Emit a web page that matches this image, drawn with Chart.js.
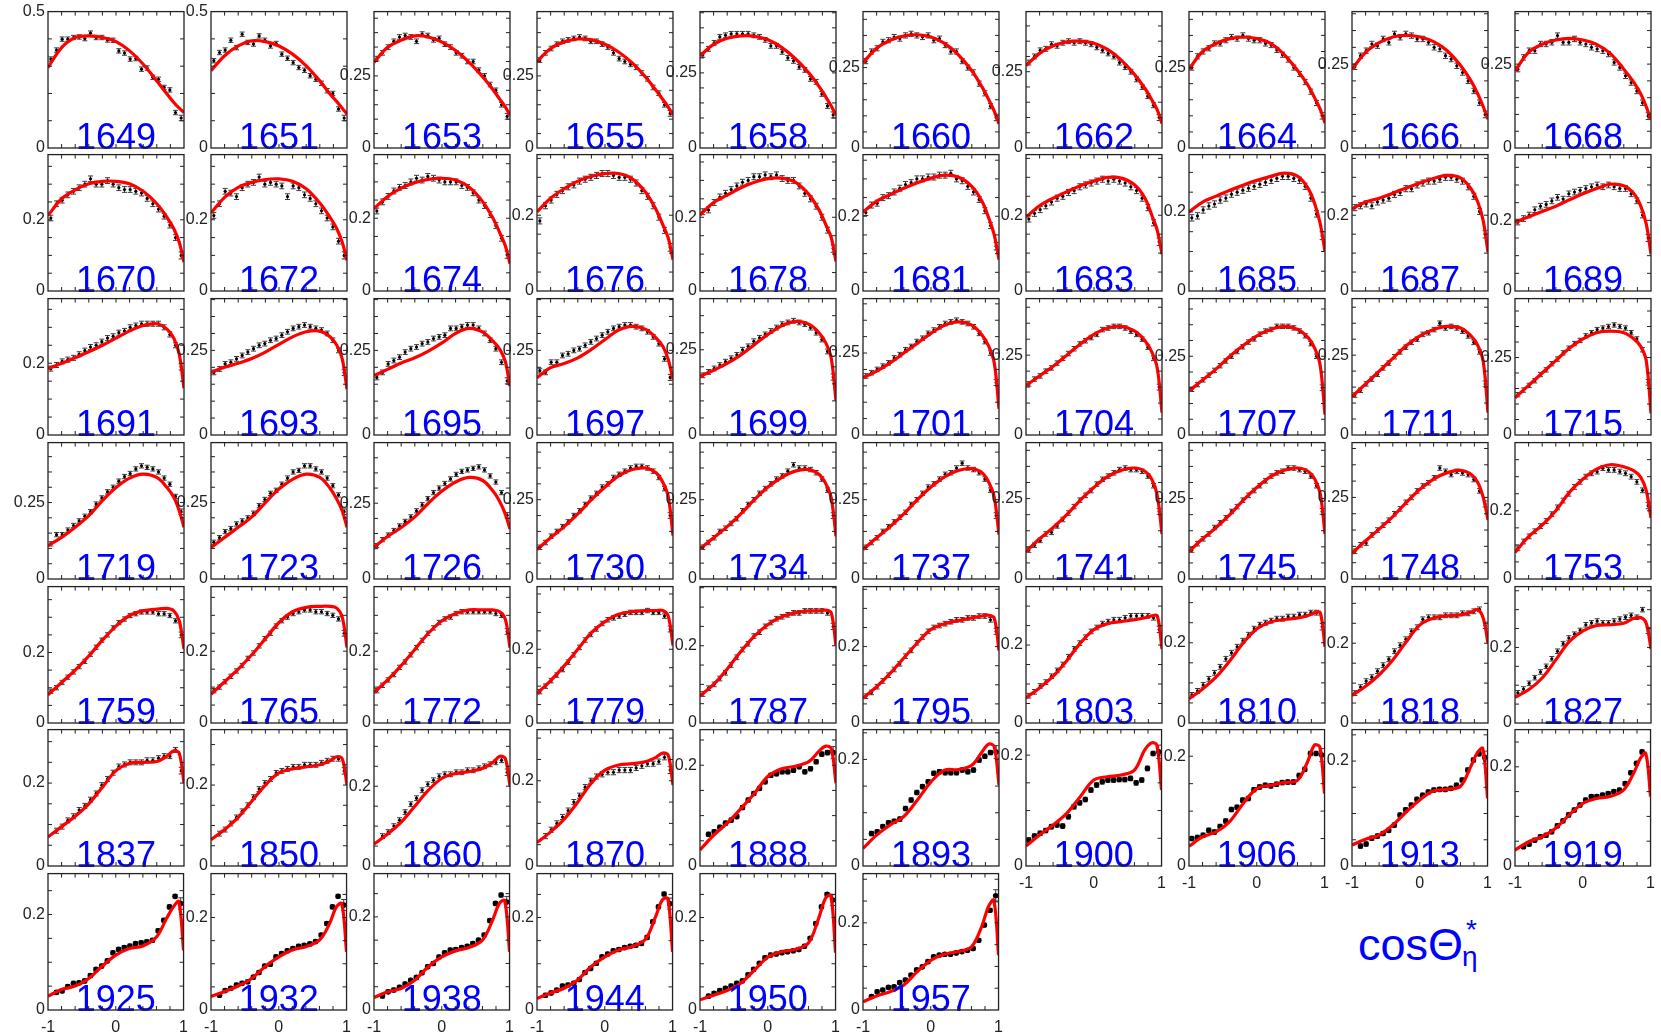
<!DOCTYPE html>
<html><head><meta charset="utf-8">
<script src="https://cdn.jsdelivr.net/npm/chart.js@4.4.1/dist/chart.umd.min.js"></script>
<style>
html,body{margin:0;padding:0;background:#fff;}
#wrap{position:relative;width:1661px;height:1035px;overflow:hidden;background:#fff;}
#wrap canvas{position:absolute;}
.xt{position:absolute;color:#0000ff;font-family:'Liberation Sans',Arial,Helvetica,sans-serif;white-space:nowrap;}
</style></head><body>
<div id="wrap">
<div class="xt" style="left:1358px;top:922px;font-size:45px;line-height:45px;">cosΘ</div>
<div class="xt" style="left:1466px;top:916px;font-size:28px;line-height:28px;">*</div>
<div class="xt" style="left:1462px;top:943px;font-size:28px;line-height:28px;">η</div>
</div>
<script>
// ---------------- data ----------------
const masses = [1649,1651,1653,1655,1658,1660,1662,1664,1666,1668,
1670,1672,1674,1676,1678,1681,1683,1685,1687,1689,
1691,1693,1695,1697,1699,1701,1704,1707,1711,1715,
1719,1723,1726,1730,1734,1737,1741,1745,1748,1753,
1759,1765,1772,1779,1787,1795,1803,1810,1818,1827,
1837,1850,1860,1870,1888,1893,1900,1906,1913,1919,
1925,1932,1938,1944,1950,1957];

const yMax = [.5,.5,.473,.473,.454,.424,.447,.424,.4065,.4065,
.383,.383,.375,.36,.37,.365,.36,.345,.36,.386,
.38,.403,.403,.403,.40,.416,.427,.433,.427,.44,
.446,.446,.45,.43,.43,.43,.424,.424,.418,.40,
.387,.38,.38,.37,.353,.357,.35,.34,.342,.361,
.329,.337,.342,.32,.2707,.256,.246,.2485,.26,.275,
.2857,.295,.293,.295,.295,.313];

const yLabel = [.5,.5,.25,.25,.25,.25,.25,.25,.25,.25,
.2,.2,.2,.2,.2,.2,.2,.2,.2,.2,
.2,.25,.25,.25,.25,.25,.25,.25,.25,.25,
.25,.25,.25,.25,.25,.25,.25,.25,.25,.2,
.2,.2,.2,.2,.2,.2,.2,.2,.2,.2,
.2,.2,.2,.2,.2,.2,.2,.2,.2,.2,
.2,.2,.2,.2,.2,.2];

const xTickVals = [-1, 0, 1];

const binX = [-0.9583,-0.875,-0.7917,-0.7083,-0.625,-0.5417,-0.4583,-0.375,-0.2917,-0.2083,-0.125,-0.0417,
0.0417,0.125,0.2083,0.2917,0.375,0.4583,0.5417,0.625,0.7083,0.7917,0.875,0.9583];

const curveX = [-1,-0.8,-0.6,-0.4,-0.2,0,0.2,0.4,0.6,0.75,0.85,0.93,1];

const errBar = [.008,.008,.008,.008,.008,.008,.008,.008,.008,.008,
.008,.008,.008,.008,.008,.008,.008,.008,.008,.008,
.007,.007,.007,.007,.007,.007,.007,.007,.007,.007,
.007,.007,.007,.007,.007,.007,.007,.007,.007,.007,
.006,.006,.006,.006,.006,.006,.006,.006,.006,.006,
.006,.006,.006,.006,.004,.004,.004,.004,.004,.004,
.004,.004,.004,.004,.004,.004];

const errEdge = [.01,.01,.01,.01,.01,.01,.01,.01,.01,.01,
.01,.01,.01,.01,.01,.01,.01,.01,.01,.01,
.009,.009,.009,.009,.009,.009,.009,.009,.009,.009,
.009,.009,.009,.009,.009,.009,.009,.009,.009,.009,
.008,.008,.008,.008,.008,.008,.008,.008,.008,.008,
.008,.008,.008,.008,.012,.012,.012,.012,.012,.012,
.012,.012,.012,.012,.012,.014];

const fit = [
[.295,.368,.405,.411,.405,.390,.356,.307,.246,.198,.167,.146,.130],
[.283,.338,.374,.393,.390,.374,.344,.301,.246,.198,.170,.146,.124],
[.297,.349,.374,.389,.385,.367,.338,.297,.246,.202,.169,.143,.114],
[.300,.345,.368,.378,.375,.360,.333,.295,.245,.200,.168,.142,.115],
[.307,.345,.365,.373,.372,.360,.335,.298,.250,.205,.170,.140,.109],
[.265,.310,.335,.348,.352,.345,.325,.290,.240,.190,.150,.115,.075],
[.270,.310,.335,.348,.350,.343,.323,.288,.240,.195,.158,.125,.080],
[.245,.300,.325,.340,.345,.340,.325,.290,.240,.195,.155,.120,.078],
[.235,.285,.314,.331,.336,.331,.317,.290,.245,.200,.161,.123,.086],
[.230,.285,.309,.322,.327,.322,.309,.282,.235,.195,.161,.123,.084],
[.212,.259,.284,.301,.308,.308,.301,.280,.245,.207,.175,.137,.081],
[.219,.263,.291,.305,.313,.315,.308,.287,.247,.207,.175,.137,.086],
[.226,.260,.283,.298,.307,.310,.305,.285,.245,.200,.160,.125,.075],
[.209,.245,.270,.290,.303,.310,.310,.296,.260,.215,.175,.140,.083],
[.206,.240,.260,.280,.295,.305,.306,.295,.262,.220,.180,.145,.080],
[.211,.240,.258,.275,.290,.302,.310,.305,.280,.240,.195,.150,.084],
[.195,.225,.245,.262,.278,.290,.300,.298,.280,.245,.200,.160,.097],
[.200,.225,.240,.255,.268,.280,.290,.298,.290,.260,.220,.170,.100],
[.217,.235,.245,.258,.272,.285,.297,.305,.298,.270,.235,.185,.102],
[.194,.210,.225,.240,.258,.275,.290,.302,.298,.275,.240,.190,.104],
[.185,.200,.215,.232,.250,.270,.290,.305,.310,.295,.270,.225,.130],
[.185,.200,.212,.226,.245,.268,.290,.305,.307,.290,.265,.225,.135],
[.176,.194,.213,.228,.248,.272,.300,.315,.304,.277,.253,.218,.144],
[.169,.199,.211,.228,.253,.282,.310,.321,.312,.287,.262,.223,.164],
[.172,.190,.210,.235,.265,.295,.320,.333,.325,.300,.270,.225,.100],
[.175,.195,.220,.250,.280,.310,.335,.345,.335,.305,.270,.220,.080],
[.155,.185,.215,.250,.285,.315,.335,.340,.325,.295,.260,.210,.070],
[.140,.175,.210,.250,.285,.315,.335,.345,.335,.310,.275,.220,.065],
[.120,.160,.200,.240,.280,.310,.330,.340,.335,.310,.280,.230,.070],
[.120,.160,.200,.240,.280,.310,.330,.335,.330,.310,.285,.240,.070],
[.109,.136,.169,.207,.256,.299,.330,.343,.332,.299,.267,.223,.169],
[.103,.136,.169,.203,.250,.294,.326,.343,.332,.297,.261,.223,.169],
[.105,.140,.170,.205,.250,.290,.320,.335,.325,.290,.255,.215,.165],
[.093,.130,.165,.205,.250,.290,.325,.345,.350,.335,.305,.260,.137],
[.095,.130,.165,.205,.250,.290,.320,.340,.345,.330,.300,.255,.135],
[.093,.130,.165,.205,.250,.290,.322,.342,.348,.335,.305,.258,.140],
[.085,.125,.160,.200,.245,.285,.318,.338,.345,.335,.310,.260,.140],
[.085,.125,.160,.200,.245,.285,.318,.338,.345,.335,.310,.265,.140],
[.079,.117,.153,.191,.235,.275,.306,.326,.333,.321,.296,.250,.181],
[.078,.124,.158,.200,.254,.293,.322,.335,.329,.317,.298,.259,.179],
[.080,.115,.150,.190,.235,.275,.305,.318,.323,.325,.318,.290,.210],
[.080,.115,.150,.190,.235,.280,.310,.322,.325,.325,.320,.295,.210],
[.085,.120,.160,.205,.250,.285,.305,.315,.315,.315,.310,.290,.210],
[.080,.115,.155,.200,.245,.275,.295,.302,.305,.305,.305,.290,.210],
[.070,.100,.140,.185,.225,.255,.275,.285,.290,.290,.292,.285,.200],
[.065,.095,.130,.170,.210,.245,.260,.268,.275,.280,.282,.275,.190],
[.065,.090,.120,.160,.205,.240,.255,.260,.265,.270,.275,.275,.190],
[.060,.085,.115,.155,.200,.235,.252,.258,.262,.268,.275,.275,.190],
[.069,.092,.121,.158,.204,.246,.263,.269,.271,.278,.284,.263,.200],
[.068,.088,.119,.167,.216,.244,.258,.260,.264,.277,.279,.264,.196],
[.070,.095,.120,.150,.190,.230,.248,.250,.252,.265,.278,.272,.200],
[.065,.090,.120,.160,.200,.230,.240,.245,.250,.260,.270,.265,.200],
[.055,.080,.110,.150,.190,.220,.232,.237,.245,.260,.275,.270,.200],
[.055,.080,.110,.150,.195,.225,.237,.240,.245,.255,.265,.260,.190],
[.032,.061,.085,.114,.144,.178,.193,.198,.207,.228,.238,.233,.164],
[.033,.058,.077,.093,.124,.158,.180,.181,.189,.214,.229,.224,.152],
[.036,.056,.074,.095,.125,.155,.161,.164,.173,.209,.222,.218,.137],
[.036,.053,.062,.081,.114,.141,.147,.152,.156,.190,.220,.217,.132],
[.040,.051,.059,.078,.103,.126,.143,.146,.152,.189,.216,.224,.129],
[.032,.049,.059,.076,.103,.126,.136,.140,.153,.187,.217,.227,.140],
[.029,.043,.050,.066,.092,.115,.129,.134,.153,.192,.216,.227,.125],
[.029,.040,.052,.068,.094,.115,.130,.137,.151,.187,.223,.230,.126],
[.027,.039,.046,.064,.093,.114,.127,.134,.150,.193,.229,.235,.125],
[.025,.037,.047,.065,.094,.115,.130,.137,.153,.202,.238,.241,.126],
[.022,.032,.042,.058,.086,.114,.126,.131,.145,.198,.241,.248,.124],
[.019,.032,.042,.057,.088,.114,.128,.134,.145,.191,.237,.252,.126]
];

const pts = [
[.326,.359,.399,.399,.405,.407,.401,.421,.405,.405,.396,.395,.356,.348,.326,.328,.289,.293,.259,.252,.222,.213,.130,.110],
[.320,.350,.359,.395,.368,.417,.387,.381,.411,.395,.374,.383,.344,.329,.313,.295,.285,.265,.252,.237,.210,.200,.143,.110],
[.310,.330,.350,.370,.385,.390,.385,.370,.395,.390,.375,.380,.360,.350,.330,.320,.300,.300,.270,.250,.220,.200,.150,.110],
[.305,.330,.345,.360,.370,.375,.380,.385,.380,.370,.370,.360,.350,.330,.310,.300,.290,.280,.260,.240,.210,.190,.150,.120],
[.310,.330,.350,.370,.375,.380,.380,.380,.380,.375,.370,.360,.340,.340,.320,.300,.290,.270,.260,.230,.220,.180,.140,.110],
[.270,.300,.310,.330,.335,.345,.340,.350,.355,.350,.345,.350,.335,.340,.320,.300,.300,.270,.250,.235,.200,.170,.130,.095],
[.280,.300,.320,.325,.340,.335,.345,.350,.345,.350,.345,.340,.330,.320,.310,.300,.280,.265,.250,.225,.200,.170,.140,.100],
[.250,.285,.300,.310,.325,.325,.335,.345,.340,.350,.340,.335,.335,.325,.320,.305,.290,.275,.250,.230,.205,.175,.140,.100],
[.242,.275,.290,.310,.305,.325,.315,.340,.330,.340,.335,.325,.325,.315,.300,.295,.275,.265,.245,.225,.200,.170,.135,.100],
[.235,.270,.290,.290,.310,.310,.315,.335,.315,.315,.325,.315,.310,.300,.295,.290,.280,.255,.240,.215,.195,.170,.135,.095],
[.205,.245,.255,.270,.280,.290,.300,.315,.300,.300,.310,.300,.290,.285,.285,.280,.275,.260,.245,.230,.210,.185,.150,.100],
[.212,.245,.280,.275,.265,.290,.300,.305,.320,.300,.305,.300,.295,.265,.295,.290,.270,.260,.245,.225,.205,.180,.140,.100],
[.220,.245,.260,.275,.285,.290,.300,.310,.305,.315,.310,.305,.300,.300,.300,.290,.285,.270,.250,.235,.210,.180,.145,.100],
[.185,.225,.240,.255,.265,.275,.280,.290,.295,.300,.305,.310,.310,.305,.300,.300,.295,.285,.265,.250,.225,.195,.160,.115],
[.215,.220,.240,.255,.265,.275,.285,.295,.300,.310,.310,.315,.310,.315,.305,.300,.300,.285,.265,.250,.230,.200,.165,.115],
[.210,.230,.235,.250,.255,.265,.275,.285,.290,.300,.300,.305,.305,.310,.310,.315,.300,.295,.280,.265,.245,.215,.175,.120],
[.190,.205,.215,.225,.235,.245,.250,.260,.265,.275,.280,.285,.290,.295,.290,.295,.290,.285,.275,.265,.245,.220,.180,.130],
[.185,.190,.205,.215,.220,.230,.235,.245,.250,.255,.260,.265,.270,.275,.280,.285,.290,.290,.285,.280,.265,.235,.195,.140],
[.220,.225,.230,.225,.235,.240,.245,.255,.260,.270,.270,.280,.285,.290,.290,.295,.300,.300,.295,.290,.275,.250,.210,.150],
[.195,.205,.215,.230,.240,.245,.255,.265,.260,.275,.280,.285,.290,.295,.300,.295,.300,.295,.290,.290,.275,.255,.215,.150],
[.185,.195,.205,.210,.215,.225,.235,.245,.250,.260,.270,.275,.285,.290,.300,.305,.310,.310,.310,.310,.300,.280,.250,.190],
[.185,.195,.210,.215,.225,.235,.245,.255,.265,.270,.280,.285,.295,.305,.315,.320,.325,.320,.315,.310,.300,.280,.250,.185],
[.170,.185,.210,.220,.230,.245,.255,.260,.270,.275,.285,.290,.295,.315,.315,.320,.325,.325,.315,.300,.280,.255,.215,.160],
[.190,.185,.215,.215,.235,.240,.250,.255,.265,.275,.285,.295,.305,.315,.320,.325,.325,.320,.315,.305,.290,.270,.225,.170],
[.175,.185,.195,.205,.215,.225,.235,.250,.260,.275,.285,.295,.305,.315,.325,.330,.335,.330,.325,.315,.300,.280,.245,.170],
[.180,.190,.200,.210,.220,.235,.245,.260,.270,.285,.295,.310,.320,.330,.340,.345,.350,.345,.340,.330,.310,.285,.250,.160],
[.160,.175,.185,.200,.210,.225,.240,.255,.270,.285,.295,.305,.315,.330,.335,.340,.340,.335,.325,.315,.300,.275,.240,.150],
[.145,.160,.175,.190,.205,.220,.235,.250,.265,.280,.295,.305,.320,.330,.335,.345,.345,.345,.340,.330,.315,.290,.250,.150],
[.125,.140,.160,.175,.190,.210,.225,.245,.260,.275,.290,.300,.315,.320,.330,.350,.335,.340,.335,.325,.310,.290,.260,.160],
[.130,.145,.160,.175,.195,.210,.230,.245,.265,.280,.295,.305,.320,.330,.340,.345,.350,.355,.350,.345,.330,.310,.275,.170],
[.115,.145,.145,.160,.175,.190,.205,.220,.245,.265,.285,.300,.320,.335,.345,.360,.370,.365,.360,.350,.330,.310,.270,.220],
[.120,.135,.155,.165,.180,.190,.200,.215,.240,.260,.280,.290,.310,.330,.350,.355,.370,.370,.360,.350,.330,.305,.275,.220],
[.110,.130,.145,.160,.175,.190,.205,.225,.245,.265,.285,.300,.315,.330,.345,.355,.360,.365,.370,.360,.340,.320,.285,.210],
[.100,.115,.135,.150,.165,.180,.200,.215,.235,.255,.270,.290,.300,.320,.330,.340,.350,.355,.355,.350,.340,.320,.285,.200],
[.100,.115,.130,.150,.160,.175,.190,.215,.235,.250,.270,.285,.300,.315,.325,.340,.360,.350,.350,.345,.335,.315,.280,.200],
[.100,.115,.130,.150,.165,.180,.195,.210,.235,.250,.270,.290,.300,.315,.330,.335,.350,.365,.350,.345,.335,.315,.280,.200],
[.090,.105,.120,.140,.145,.165,.185,.205,.225,.245,.260,.275,.295,.310,.320,.330,.340,.345,.340,.340,.335,.320,.290,.210],
[.090,.110,.125,.140,.160,.175,.190,.210,.225,.245,.260,.275,.290,.305,.320,.330,.335,.345,.345,.340,.335,.320,.290,.210],
[.085,.105,.110,.135,.150,.165,.180,.200,.215,.235,.250,.270,.285,.295,.310,.340,.330,.320,.330,.325,.320,.305,.270,.230],
[.090,.110,.125,.140,.155,.170,.190,.210,.230,.250,.270,.285,.300,.310,.315,.325,.320,.320,.315,.310,.300,.285,.260,.215],
[.090,.100,.115,.130,.145,.160,.175,.195,.215,.235,.250,.270,.285,.295,.305,.310,.315,.315,.315,.310,.310,.305,.290,.250],
[.090,.100,.115,.130,.145,.160,.180,.195,.215,.235,.250,.270,.285,.295,.305,.310,.315,.315,.310,.310,.305,.300,.290,.250],
[.090,.105,.120,.135,.155,.170,.190,.210,.230,.250,.265,.280,.290,.295,.305,.310,.310,.310,.310,.310,.310,.305,.300,.255],
[.085,.100,.115,.130,.145,.165,.185,.205,.225,.240,.255,.270,.280,.285,.290,.295,.300,.300,.300,.305,.300,.300,.290,.255],
[.075,.090,.100,.115,.130,.150,.170,.190,.205,.225,.235,.250,.260,.270,.275,.280,.285,.285,.290,.290,.290,.290,.285,.250],
[.070,.080,.095,.110,.125,.140,.155,.175,.190,.210,.225,.240,.250,.255,.260,.265,.270,.270,.275,.275,.280,.280,.270,.240],
[.070,.080,.095,.105,.120,.135,.150,.170,.190,.205,.220,.235,.245,.255,.260,.265,.265,.270,.275,.275,.275,.275,.270,.240],
[.070,.080,.095,.110,.125,.140,.160,.175,.190,.205,.220,.235,.245,.250,.255,.260,.260,.265,.265,.270,.270,.275,.275,.240],
[.075,.090,.105,.115,.130,.145,.160,.180,.195,.210,.230,.240,.260,.265,.265,.265,.270,.270,.270,.275,.275,.280,.285,.245],
[.080,.090,.105,.120,.135,.150,.170,.190,.210,.225,.235,.245,.260,.265,.270,.265,.265,.270,.275,.280,.285,.280,.300,.245],
[null,.085,.095,.110,.120,.135,.145,.160,.175,.195,.210,.225,.240,.245,.250,.250,.250,.255,.255,.260,.265,.265,.280,.230],
[null,.080,.090,.105,.120,.135,.150,.170,.190,.205,.215,.230,.235,.240,.245,.245,.250,.250,.250,.255,.260,.265,.265,.235],
[null,.075,.085,.100,.115,.135,.155,.170,.190,.205,.215,.225,.230,.230,.235,.235,.240,.240,.245,.250,.255,.260,.265,.235],
[null,.070,.085,.100,.115,.130,.150,.165,.185,.200,.210,.215,.220,.220,.225,.225,.225,.230,.235,.240,.240,.245,.255,.225],
[null,.063,.068,.077,.085,.091,.098,.116,.131,.144,.154,.167,.180,.183,.187,.187,.190,.197,.187,.193,.207,.222,.225,.225],
[null,.061,.064,.074,.081,.084,.088,.108,.124,.138,.149,.158,.174,.177,.175,.175,.175,.180,.177,.180,.199,.206,.213,.214],
[.047,.054,.059,.064,.071,.074,.072,.089,.107,.114,.120,.137,.146,.152,.155,.155,.156,.156,.158,.150,.155,.176,.203,.206],
[.050,.052,.056,.065,.062,.072,.082,.103,.107,.120,.123,.139,.144,.147,.146,.149,.152,.153,.153,.165,.176,.205,.205,.202],
[null,.038,.042,.053,.057,.062,.068,.078,.097,.107,.116,.127,.135,.141,.145,.146,.146,.148,.154,.164,.183,.202,.214,.207],
[null,.039,.044,.052,.059,.062,.069,.081,.091,.103,.113,.123,.133,.140,.140,.143,.146,.150,.153,.166,.188,.207,.230,null],
[null,.037,.040,.049,.056,.057,.061,.072,.085,.092,.103,.120,.127,.131,.134,.139,.141,.143,.146,.166,.188,.216,.238,.223],
[null,.032,.042,.047,.054,.058,.061,.071,.081,.095,.099,.115,.122,.128,.133,.138,.140,.143,.148,.162,.187,.223,.246,.227],
[null,.030,.039,.043,.049,.056,.064,.070,.080,.093,.100,.114,.123,.129,.130,.134,.137,.143,.150,.161,.192,.229,.247,.232],
[null,.032,.037,.043,.052,.054,.058,.066,.081,.090,.101,.115,.121,.128,.131,.135,.138,.140,.144,.157,.191,.223,.251,.230],
[null,.030,.036,.042,.047,.052,.058,.063,.076,.088,.101,.113,.119,.121,.124,.126,.128,.131,.138,.155,.187,.223,.250,.238],
[null,.031,.042,.046,.052,.053,.063,.069,.080,.092,.099,.111,.122,.126,.128,.128,.131,.134,.137,.141,.160,.195,.229,.262]
];

// ---------------- layout ----------------
const NCOL = 10;
const COL_X0 = 47.7, COL_DX = 163, ROW_Y0 = 10.7, ROW_DY = 143.7;
const PW = 136, PH = 137, PADL = 56, PADT = 12, PADR = 12, PADB = 32;
const FONT = "'Liberation Sans', Arial, Helvetica, sans-serif";

Chart.defaults.font.family = FONT;

const panelPlugin = {
  id: 'panel',
  beforeDatasetsDraw(chart, args, o) {
    const ctx = chart.ctx, xs = chart.scales.x, ys = chart.scales.y;
    const data = chart.data.datasets[1].data;
    ctx.save();
    ctx.strokeStyle = '#3a3a3a';
    ctx.lineWidth = 1;
    data.forEach(p => {
      const px = xs.getPixelForValue(p.x);
      const y1 = ys.getPixelForValue(p.y - p.e), y2 = ys.getPixelForValue(p.y + p.e);
      ctx.beginPath();
      ctx.moveTo(px, y1); ctx.lineTo(px, y2);
      ctx.moveTo(px - 2.5, y1); ctx.lineTo(px + 2.5, y1);
      ctx.moveTo(px - 2.5, y2); ctx.lineTo(px + 2.5, y2);
      ctx.stroke();
    });
    ctx.restore();
  },
  afterDatasetsDraw(chart, args, o) {
    const ctx = chart.ctx, a = chart.chartArea;
    ctx.save();
    ctx.font = '36px ' + FONT;
    ctx.fillStyle = '#0000ff';
    ctx.textAlign = 'center';
    ctx.textBaseline = 'alphabetic';
    ctx.fillText(o.label, (a.left + a.right) / 2, a.bottom + 1);
    ctx.restore();
  },
  afterDraw(chart, args, o) {
    const ctx = chart.ctx, a = chart.chartArea, xs = chart.scales.x, ys = chart.scales.y;
    ctx.save();
    ctx.strokeStyle = '#222';
    ctx.lineWidth = 1;
    ctx.beginPath();
    for (let i = 1; i < 10; i++) {
      const px = xs.getPixelForValue(-1 + 0.2 * i);
      ctx.moveTo(px, a.top); ctx.lineTo(px, a.top + 4);
      ctx.moveTo(px, a.bottom); ctx.lineTo(px, a.bottom - 4);
    }
    for (let i = 1; i * o.ystep < o.ymax - 1e-6; i++) {
      const py = ys.getPixelForValue(i * o.ystep);
      ctx.moveTo(a.left, py); ctx.lineTo(a.left + 4, py);
      ctx.moveTo(a.right, py); ctx.lineTo(a.right - 4, py);
    }
    ctx.stroke();
    ctx.lineWidth = 1.3;
    ctx.strokeRect(a.left, a.top, a.right - a.left, a.bottom - a.top);
    ctx.restore();
  }
};
Chart.register(panelPlugin);

const wrap = document.getElementById('wrap');
const n = masses.length;

for (let k = 0; k < n; k++) {
  const c = k % NCOL, r = Math.floor(k / NCOL);
  const isBottom = (k + NCOL) >= n;
  const px = Math.round(COL_X0 + COL_DX * c), py = Math.round(ROW_Y0 + ROW_DY * r);
  const cv = document.createElement('canvas');
  cv.width = PW + PADL + PADR;
  cv.height = PH + PADT + PADB;
  cv.style.left = (px - PADL) + 'px';
  cv.style.top = (py - PADT) + 'px';
  cv.style.width = cv.width + 'px';
  cv.style.height = cv.height + 'px';
  wrap.appendChild(cv);

  const big = masses[k] >= 1880;
  const curveData = curveX.map((x, i) => ({ x: x, y: fit[k][i] }));
  const pointData = [];
  binX.forEach((x, i) => {
    const v = pts[k][i];
    if (v !== null && v !== undefined) {
      pointData.push({ x: x, y: v, e: (i === binX.length - 1) ? errEdge[k] : errBar[k] });
    }
  });

  new Chart(cv, {
    type: 'scatter',
    data: {
      datasets: [
        { data: curveData, showLine: true, borderColor: '#ff0000', borderWidth: 3.2,
          pointRadius: 0, tension: 0.35, order: 0, fill: false },
        { data: pointData, showLine: false, pointRadius: big ? 2.8 : 1.6,
          pointBackgroundColor: '#000', pointBorderColor: '#000', pointBorderWidth: 0, order: 1 }
      ]
    },
    options: {
      responsive: false,
      devicePixelRatio: 1,
      animation: false,
      events: [],
      layout: { padding: { left: 0, top: PADT, right: PADR, bottom: 0 } },
      plugins: {
        legend: { display: false },
        tooltip: { enabled: false },
        panel: { label: String(masses[k]), ymax: yMax[k], ystep: yMax[k] > 0.48 ? 0.1 : 0.05 }
      },
      scales: {
        x: {
          type: 'linear', min: -1, max: 1, position: 'bottom',
          grid: { display: false, drawTicks: false }, border: { display: false },
          ticks: { display: isBottom, padding: 8, color: '#222', font: { size: 16, family: FONT },
                   maxRotation: 0, autoSkip: false, callback: v => String(v) },
          afterBuildTicks: s => { s.ticks = xTickVals.map(v => ({ value: v })); },
          afterFit: s => { s.height = PADB; }
        },
        y: {
          type: 'linear', min: 0, max: yMax[k], position: 'left',
          grid: { display: false, drawTicks: false }, border: { display: false },
          ticks: { padding: 3, color: '#222', font: { size: 16, family: FONT },
                   autoSkip: false, callback: v => String(v) },
          afterBuildTicks: s => { s.ticks = [{ value: 0 }, { value: yLabel[k] }]; },
          afterFit: s => { s.width = PADL; }
        }
      }
    }
  });
}
</script>
</body></html>
